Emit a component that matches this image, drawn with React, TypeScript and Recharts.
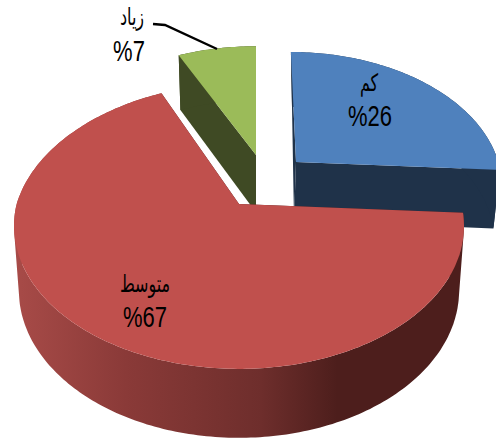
// Exploded 3D pie, drawn through Recharts' Pie with a custom sector shape

import { Pie, PieChart } from 'recharts'

// green comes first so the big red slice paints over its wall
const categories = ['زياد', 'كم', 'متوسط']
const shares = [7, 26, 67]

const tableData = categories.map((name, i) => ({ name, value: shares[i] }))

const FONT = '"Liberation Sans", "DejaVu Sans", sans-serif'
const TILT = 0.635 // vertical squash of the disc
const PERSPECTIVE = -0.154 // pulls the back of the disc towards the viewer's apex
const DEPTH = 64

const SLICE_STYLE: Record<string, any> = {
  'كم': {
    top: '#4F81BD', wall: '#1F3249', dx: 57, dy: -42,
    sx: 0.91, sy: 0.91, skew: 0.046, wallDx: -2, wallSkew: 0.018
  },
  'زياد': {
    top: '#9BBB59', wall: '#3F4A24', dx: 17, dy: -49,
    sx: 0.93, sy: 0.9, skew: 0, wallDx: 0, wallSkew: 0
  },
  'متوسط': {
    top: '#C0504D', wall: '#4D1E1C', arcWall: 'url(#redWall)', dx: 0, dy: 0,
    sx: 1, sy: 1, skew: -0.05, wallDx: 0, wallSkew: 0
  }
}

const LABEL_STYLE: Record<string, any> = {
  'كم': { x: 369, valueX: 370, nameY: 91, valueY: 126 },
  'زياد': { x: 132, valueX: 129, nameY: 25, valueY: 61 },
  'متوسط': { x: 145, valueX: 145, nameY: 292, valueY: 327 }
}

function toPath(points: number[][]) {
  return points.map((p, i) => `${i ? 'L' : 'M'}${p[0].toFixed(1)} ${p[1].toFixed(1)}`).join(' ') + ' Z'
}

// quads of the outer wall, all wound the same way so they merge under nonzero fill
function sweptWall(tops: number[][], lows: number[][]) {
  const parts: string[] = []
  for (let i = 0; i < tops.length - 1; i++) {
    const quad = [tops[i], tops[i + 1], lows[i + 1], lows[i]]
    let area = 0
    quad.forEach((p, j) => {
      const q = quad[(j + 1) % 4]
      area += p[0] * q[1] - q[0] * p[1]
    })
    parts.push(toPath(area < 0 ? quad.slice().reverse() : quad))
  }
  return parts.join(' ')
}

function Slice3D(props: any) {
  const { cx, cy, outerRadius, startAngle, endAngle, name } = props
  const s = SLICE_STYLE[name]
  const ax = cx + s.dx
  const ay = cy + s.dy
  const rx = outerRadius
  const ry = outerRadius * TILT
  const k = Math.sqrt(1 - PERSPECTIVE * PERSPECTIVE)

  const rel = (angle: number) => {
    const t = (angle * Math.PI) / 180
    const u = Math.cos(t)
    const v = -Math.sin(t)
    const d = 1 + PERSPECTIVE * v
    return [(rx * u * k * s.sx) / d, ry * s.sy * ((v + PERSPECTIVE) / d - PERSPECTIVE)]
  }
  const topPt = (p: number[]) => [ax + p[0] + (p[1] < 0 ? s.skew * p[1] : 0), ay + p[1]]
  const lowPt = (p: number[]) => [
    ax + s.wallDx + p[0] * 0.978 + (p[1] < 0 ? s.wallSkew * p[1] : 0),
    ay + p[1] * 1.03 + DEPTH * s.sy
  ]

  const arc: number[][] = []
  const steps = Math.ceil(Math.abs(startAngle - endAngle))
  for (let i = 0; i <= steps; i++) {
    arc.push(rel(startAngle + ((endAngle - startAngle) * i) / steps))
  }
  const first = arc[0]
  const last = arc[arc.length - 1]
  const apex = [0, 0]

  return (
    <g>
      <defs>
        <linearGradient id="redWall" gradientUnits="userSpaceOnUse" x1="14" y1="0" x2="463" y2="0">
          <stop offset="0" stopColor="#A84B48" />
          <stop offset="0.25" stopColor="#8A3A38" />
          <stop offset="0.55" stopColor="#6E2E2C" />
          <stop offset="0.72" stopColor="#4D1E1C" />
          <stop offset="1" stopColor="#4D1E1C" />
        </linearGradient>
      </defs>
      <path d={toPath([topPt(first), topPt(apex), lowPt(apex), lowPt(first)])} fill={s.wall} />
      <path d={toPath([topPt(last), topPt(apex), lowPt(apex), lowPt(last)])} fill={s.wall} />
      <path d={sweptWall(arc.map(topPt), arc.map(lowPt))} fill={s.arcWall || s.wall} />
      <path d={toPath([topPt(apex), ...arc.map(topPt)])} fill={s.top} />
    </g>
  )
}

function SliceLabel(props: any) {
  const { name, value } = props
  const l = LABEL_STYLE[name]
  const textProps = {
    fontFamily: FONT,
    fill: '#000000',
    textAnchor: 'middle' as const
  }
  return (
    <g>
      {name === 'زياد' && (
        <polyline points="153,24 165,25 217,49" fill="none" stroke="#000000" strokeWidth={2.4} />
      )}
      <text {...textProps} fontSize={16} transform={`translate(${l.x} ${l.nameY}) scale(1 1.5)`}>{name}</text>
      <text {...textProps} fontSize={22} direction="ltr" transform={`translate(${l.valueX} ${l.valueY}) scale(1 1.35)`}>
        {`%${value}`}
      </text>
    </g>
  )
}

export default function App() {
  return (
    <div style={{ width: 496, height: 439, position: 'absolute', left: 0, top: 0, background: '#fff' }}>
      <PieChart width={496} height={439} margin={{ top: 0, right: 0, bottom: 0, left: 0 }}>
        <Pie
          data={tableData}
          dataKey="value"
          nameKey="name"
          cx={239}
          cy={204}
          innerRadius={0}
          outerRadius={225}
          startAngle={115.2}
          endAngle={-244.8}
          stroke="none"
          shape={Slice3D}
          label={SliceLabel}
          labelLine={false}
          isAnimationActive={false}
        />
      </PieChart>
    </div>
  )
}
